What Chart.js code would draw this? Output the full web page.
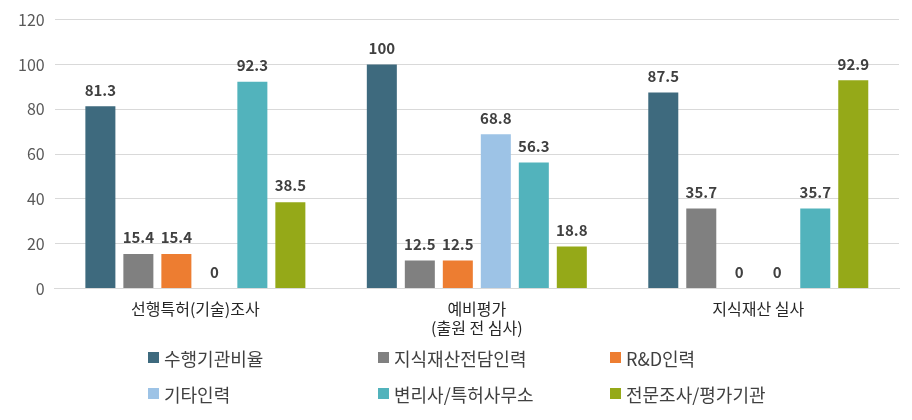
<!DOCTYPE html>
<html>
<head>
<meta charset="utf-8">
<script src="https://cdn.jsdelivr.net/npm/chart.js@4"></script>
<style>
  html, body { margin: 0; padding: 0; background: #fff; }
  #wrap { position: relative; width: 912px; height: 420px; }
  #legend {
    position: absolute; left: 148px; top: 345px;
    display: grid; grid-template-columns: 230px 232px 230px;
    row-gap: 11px;
    font-family: "Noto Sans CJK KR", sans-serif; font-size: 18px; color: #404040;
  }
  .item { display: flex; align-items: center; height: 25px; white-space: nowrap; }
  .box { width: 11px; height: 11px; margin-right: 5px; }
</style>
</head>
<body>
<div id="wrap">
  <canvas id="grafica" width="912" height="420"></canvas>
  <div id="legend"></div>
</div>
<script>
// categorias y series
var categorias = [["선행특허(기술)조사"], ["예비평가", "(출원 전 심사)"], ["지식재산 실사"]];
var series = ["수행기관비율", "지식재산전담인력", "R&D인력", "기타인력", "변리사/특허사무소", "전문조사/평가기관"];
var colores = ["#3E6A7E", "#808080", "#ED7D31", "#9DC3E6", "#52B3BC", "#95A918"];
var suhaeng = [81.3, 100, 87.5];
var jeondam = [15.4, 12.5, 35.7];
var rnd = [15.4, 12.5, 0];
var gita = [0, 68.8, 0];
var byeonri = [92.3, 56.3, 35.7];
var jeonmun = [38.5, 18.8, 92.9];
var yTicks = [0, 20, 40, 60, 80, 100, 120];

var valores = [suhaeng, jeondam, rnd, gita, byeonri, jeonmun];
var fuente = '"Noto Sans CJK KR", sans-serif';

var chartDataSet = [];
for (var i = 0; i < series.length; i++) {
    chartDataSet.push({
        label: series[i],
        data: valores[i],
        backgroundColor: colores[i],
        borderWidth: 0,
        categoryPercentage: 0.81,
        barPercentage: 0.79
    });
}

// etiquetas de valor encima de cada barra
var etiquetasValor = {
    id: "etiquetasValor",
    afterDatasetsDraw: function (chart) {
        var c = chart.ctx;
        c.save();
        c.font = "bold 15px " + fuente;
        c.fillStyle = "#404040";
        c.textAlign = "center";
        c.textBaseline = "bottom";
        chart.data.datasets.forEach(function (ds, i) {
            chart.getDatasetMeta(i).data.forEach(function (bar, j) {
                c.fillText(String(ds.data[j]), bar.x, bar.y - 9);
            });
        });
        c.restore();
    }
};

var ctx = document.getElementById("grafica");
window.myBar = new Chart(ctx, {
    type: "bar",
    data: { labels: categorias, datasets: chartDataSet },
    options: {
        responsive: false,
        animation: false,
        layout: { padding: { top: 6, right: 13, left: 8, bottom: 79 } },
        plugins: {
            legend: { display: false },
            tooltip: { enabled: false }
        },
        scales: {
            x: {
                grid: { display: false },
                border: { color: "#d9d9d9" },
                ticks: { color: "#262626", font: { family: fuente, size: 16 }, padding: 3 }
            },
            y: {
                min: 0, max: 120,
                afterBuildTicks: function (axis) {
                    axis.ticks = yTicks.map(function (v) { return { value: v }; });
                },
                grid: { color: "#d9d9d9", drawTicks: false },
                border: { display: false },
                ticks: { color: "#595959", font: { family: fuente, size: 16 }, padding: 10 }
            }
        }
    },
    plugins: [etiquetasValor]
});

// leyenda en tres columnas
var leyenda = document.getElementById("legend");
series.forEach(function (s, i) {
    var d = document.createElement("div");
    d.className = "item";
    d.innerHTML = '<span class="box" style="background:' + colores[i] + '"></span>' + s;
    leyenda.appendChild(d);
});
</script>
</body>
</html>
